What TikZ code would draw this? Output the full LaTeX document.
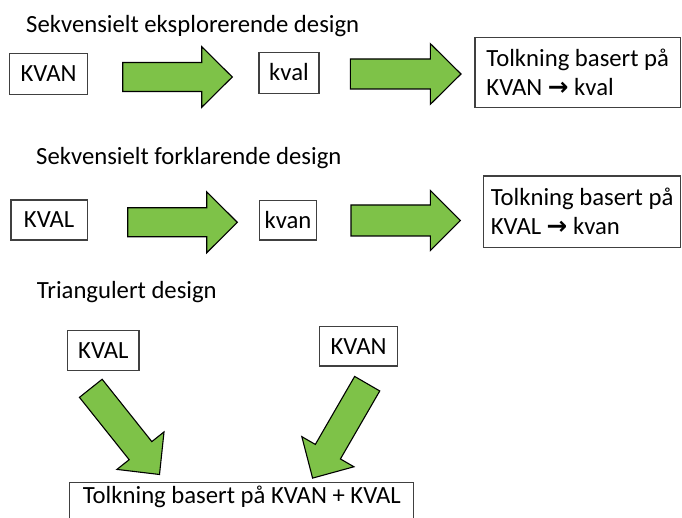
\documentclass[tikz,border=0pt]{standalone}
\usepackage{fontspec}
\setmainfont{Carlito}
\newfontfamily\arrowfont{DejaVu Sans}
\usetikzlibrary{calc}
\definecolor{arrowgreen}{RGB}{126,194,72}
\definecolor{boxline}{RGB}{64,64,64}
\tikzset{
  every node/.style={font=\fontsize{24.7}{29}\selectfont},
  box/.style={draw=boxline, line width=1.1pt, inner sep=0pt, text height=15.6pt, text depth=0pt},
  bigbox/.style={draw=boxline, line width=1.1pt, inner sep=0pt, align=left},
  title/.style={anchor=base west, inner sep=0pt},
  blockarr/.style={fill=arrowgreen, draw=black, line width=1.1pt, line join=miter}
}
\newcommand\blockarrow[5]{%
  \coordinate (ba-a) at (#1);
  \coordinate (ba-b) at (#2);
  \coordinate (ba-h) at ($(ba-b)!#5!(ba-a)$);
  \filldraw[blockarr] ($(ba-a)!#3!90:(ba-b)$) -- ($(ba-h)!#3!90:(ba-b)$) -- ($(ba-h)!#4!90:(ba-b)$) -- (ba-b)
    -- ($(ba-h)!#4!-90:(ba-b)$) -- ($(ba-h)!#3!-90:(ba-b)$) -- ($(ba-a)!#3!-90:(ba-b)$) -- cycle;
}
\newcommand\rarr{{\arrowfont\bfseries →}}
\begin{document}
\begin{tikzpicture}[x=1pt,y=-1pt]
\useasboundingbox (0,0) rectangle (682,518);
\fill[white] (0,0) rectangle (682,518);
\clip (0,0) rectangle (682,518);

% titles
\node[title] (t1) at (26,33) {Sekvensielt eksplorerende design};
\node[title] (t2) at (36,165) {Sekvensielt forklarende design};
\node[title] (t3) at (36.7,298.3) {Triangulert design};

% row 1
\node[box, minimum width=78.4pt, minimum height=41pt] (kvan1) at (48.5,73.8) {KVAN};
\node[box, minimum width=60pt, minimum height=41pt] (kval1) at (289,72.8) {kval};
\node[bigbox, minimum width=205.5pt, minimum height=70pt] (tolk1) at (577.75,72.3) {Tolkning basert på\\KVAN \rarr{} kval};

% row 2
\node[box, minimum width=76.3pt, minimum height=40pt] (kval2) at (49.15,220) {KVAL};
\node[box, minimum width=57.4pt, minimum height=39.3pt] (kvan2) at (288,220.35) {kvan};
\node[bigbox, minimum width=196.8pt, minimum height=71.3pt] (tolk2) at (582.1,211.65) {Tolkning basert på\\KVAL \rarr{} kvan};

% row 3
\node[box, minimum width=71.3pt, minimum height=40pt] (kval3) at (103.35,350.7) {KVAL};
\node[box, minimum width=78.4pt, minimum height=39.3pt] (kvan3) at (358.5,346.35) {KVAN};
\node[box, anchor=north west, minimum width=344pt, text height=21pt, text depth=20pt] (tolk3) at (69.3,482) {Tolkning basert på KVAN + KVAL};

% block arrows
\blockarrow{122.7,77}{232.3,77}{14.5pt}{30.3pt}{30.6pt}
\blockarrow{350.3,74}{461,74}{15pt}{30.3pt}{30.6pt}
\blockarrow{127.7,222.3}{237.3,222.3}{14.5pt}{30.5pt}{30.6pt}
\blockarrow{351,220.5}{460.3,220.5}{15.5pt}{30pt}{30pt}
\blockarrow{90.8,388.3}{159.5,474.5}{14.5pt}{30.1pt}{30.5pt}
\blockarrow{367.2,383.7}{312.6,478.1}{14.5pt}{30.1pt}{30.5pt}
\end{tikzpicture}
\end{document}
